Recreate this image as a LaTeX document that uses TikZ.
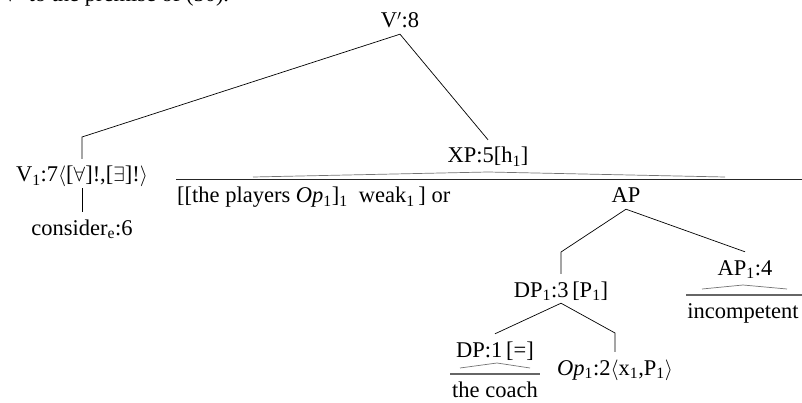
\documentclass[tikz,border=0pt]{standalone}
\usepackage{fontspec}
\setmainfont{Liberation Serif}
\usetikzlibrary{calc}
\begin{document}
\begin{tikzpicture}[x=1pt,y=-1pt,
  lbl/.style={inner xsep=0pt, inner ysep=3pt, text height=20pt, text depth=3pt, anchor=base, font=\fontsize{22.5}{27}\selectfont},
  edge/.style={draw=black, line width=0.7pt},
  roof/.style={draw=black!55, line width=0.7pt},
  bar/.style={draw=black!60, line width=1.4pt},
  hbar/.style={draw=black!85, line width=1pt}]
\useasboundingbox (0,0) rectangle (802,403);
\begin{scope}
\clip (0,0) rectangle (802,403);
\node[lbl, anchor=base west] (top) at (2,2) {V${}'$ to the premise of (50).};
\end{scope}
% nodes
\node[lbl] (vp) at (400,28) {V${}'$:8};
\node[lbl] (v1) at (82,182) {V\textsubscript{1}:7$\langle$[$\forall$]!,[$\exists$]!$\rangle$};
\node[lbl] (cons) at (82,235) {consider\textsubscript{e}:6};
\node[lbl] (xp) at (488,163) {XP:5[h\textsubscript{1}]};
\node[lbl, anchor=base west] (txt) at (177,203) {[[the players \textit{Op}\textsubscript{1}]\textsubscript{1}\ \ weak\textsubscript{1}\,] or};
\node[lbl] (ap) at (626,203) {AP};
\node[lbl] (dp13) at (561,297) {DP\textsubscript{1}:3\,[P\textsubscript{1}]};
\node[lbl] (ap14) at (745,275) {AP\textsubscript{1}:4};
\node[lbl] (incomp) at (743,318) {incompetent};
\node[lbl] (dp1) at (495,357) {DP:1\,[=]};
\node[lbl] (coach) at (495,397) {the coach};
\node[lbl] (op) at (615,375) {\textit{Op}\textsubscript{1}:2$\langle$x\textsubscript{1},P\textsubscript{1}$\rangle$};
% corner points
\coordinate (c1) at (v1.north |- 0,137);
\coordinate (c2) at (dp13.north |- 0,252);
\coordinate (c3) at (op.north |- 0,333);
% branches
\draw[edge] (vp.south) -- (c1) -- (v1.north);
\draw[edge] (vp.south) -- (xp.north);
\draw[edge] (v1.south) -- (cons.north);
\draw[edge] (ap.south) -- (c2) -- (dp13.north);
\draw[edge] (ap.south) -- (ap14.north);
\draw[edge] (dp13.south) -- (dp1.north);
\draw[edge] (dp13.south) -- (c3) -- (op.north);
% roofs
\draw[roof] ($(xp.base)+(-235,14)$) -- ($(xp.base)+(0,9)$) -- ($(xp.base)+(237,14)$);
\draw[hbar] ($(txt.north west)+(-1,0)$) -- (txt.north west -| 802,0);
\draw[roof] ($(ap14.base)+(-43,14)$) -- ($(ap14.base)+(-2,10)$) -- ($(ap14.base)+(42,14)$);
\draw[bar] ($(incomp.north west)+(-1,0)$) -- (incomp.north west -| 802,0);
\draw[roof] ($(dp1.base)+(-35,11)$) -- ($(dp1.base)+(2,6)$) -- ($(dp1.base)+(35,11)$);
\draw[bar] ($(coach.north west)+(-2,0)$) -- ($(coach.north east)+(2,0)$);
\end{tikzpicture}
\end{document}
